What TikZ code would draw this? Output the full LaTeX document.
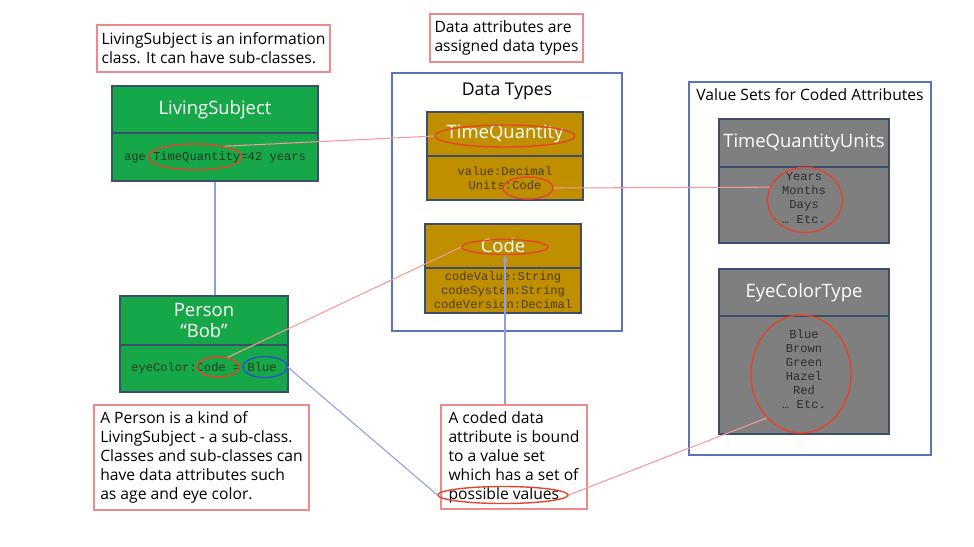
\documentclass[tikz,border=0pt]{standalone}
\usepackage{fontspec}
\setmainfont{Open Sans}
\setmonofont{Liberation Mono}
\usetikzlibrary{shapes.geometric, arrows.meta, positioning}
\definecolor{classgreen}{HTML}{16A848}
\definecolor{typegold}{HTML}{BF8F00}
\definecolor{setgrey}{HTML}{7F7F7F}
\definecolor{boxline}{HTML}{3B4E6B}
\definecolor{groupline}{HTML}{5B74B8}
\definecolor{noteline}{HTML}{EE8A8A}
\definecolor{ringred}{HTML}{E5452C}
\definecolor{ringblue}{HTML}{2456C8}
\definecolor{linkred}{HTML}{F29A9A}
\definecolor{linkblue}{HTML}{8E9EE2}
\definecolor{greentext}{HTML}{1C3A22}
\definecolor{goldtext}{HTML}{4C3C14}
\definecolor{greytext}{HTML}{2E2E2E}

\tikzset{
  note/.style={draw=noteline, line width=0.6pt, fill=white, align=left, inner sep=0pt,
    font=\fontsize{8.9}{10.8}\selectfont, anchor=center},
  hdr/.style={draw=boxline, line width=0.6pt, text=white, align=center, inner sep=0pt,
    font=\fontsize{10.5}{12}\selectfont},
  attr/.style={draw=boxline, line width=0.6pt, align=center, inner sep=0pt,
    font=\fontsize{6.9}{8}\ttfamily},
  group/.style={draw=groupline, line width=0.6pt, inner sep=0pt},
  ring/.style={ellipse, draw=ringred, line width=0.8pt, inner sep=0pt},
  redlink/.style={draw=linkred, line width=0.6pt},
  bluelink/.style={draw=linkblue, line width=0.6pt},
}

\begin{document}
\begin{tikzpicture}
  \useasboundingbox (0,0) rectangle (19.48,-10.94);

  % information classes
  \node[hdr, fill=classgreen, minimum width=4.12cm, minimum height=0.94cm] (lsHead) at (4.30,-2.19) {LivingSubject};
  \node[attr, fill=classgreen, text=greentext, minimum width=4.12cm, minimum height=0.96cm] (lsBody) at (4.30,-3.14) {age:TimeQuantity=42 years};

  \node[hdr, fill=classgreen, minimum width=3.36cm, minimum height=0.98cm] (perHead) at (4.08,-6.41) {Person\\“Bob”};
  \node[attr, fill=classgreen, text=greentext, minimum width=3.36cm, minimum height=0.94cm] (perBody) at (4.08,-7.37) {eyeColor:Code = Blue};

  \draw[bluelink] (lsBody.south) -- (lsBody.south |- perHead.north);

  % data types
  \node[group, minimum width=4.60cm, minimum height=5.16cm] (dtGroup) at (10.14,-4.04) {};
  \node[font=\fontsize{10}{12}\selectfont] (dtTitle) at (10.14,-1.82) {Data Types};

  \node[hdr, fill=typegold, minimum width=3.12cm, minimum height=0.88cm] (tqHead) at (10.10,-2.68) {TimeQuantity};
  \node[attr, fill=typegold, text=goldtext, minimum width=3.12cm, minimum height=0.88cm] (tqBody) at (10.10,-3.56) {value:Decimal\\Units:Code};

  \node[hdr, fill=typegold, minimum width=3.12cm, minimum height=0.88cm] (cdHead) at (10.06,-4.92) {Code};
  \node[attr, fill=typegold, text=goldtext, minimum width=3.12cm, minimum height=0.90cm] (cdBody) at (10.06,-5.81) {codeValue:String\\codeSystem:String\\codeVersion:Decimal};

  % value sets
  \node[group, minimum width=4.84cm, minimum height=7.46cm] (vsGroup) at (16.20,-5.37) {};
  \node[font=\fontsize{8.9}{11}\selectfont] (vsTitle) at (16.20,-1.90) {Value Sets for Coded Attributes};

  \node[hdr, fill=setgrey, minimum width=3.40cm, minimum height=0.96cm] (tquHead) at (16.08,-2.86) {TimeQuantityUnits};
  \node[attr, fill=setgrey, minimum width=3.40cm, minimum height=1.52cm] (tquBody) at (16.08,-4.10) {};
  \node[attr, draw=none, text=greytext] (tquVals) at (16.08,-3.96) {Years\\Months\\Days\\… Etc.};

  \node[hdr, fill=setgrey, minimum width=3.40cm, minimum height=0.94cm] (ecHead) at (16.08,-5.85) {EyeColorType};
  \node[attr, fill=setgrey, minimum width=3.40cm, minimum height=2.36cm] (ecBody) at (16.08,-7.50) {};
  \node[attr, draw=none, text=greytext] (ecVals) at (16.08,-7.38) {Blue\\Brown\\Green\\Hazel\\Red\\… Etc.};

  % callouts
  \node[note, minimum width=4.66cm, minimum height=0.94cm] (noteClass) at (4.27,-0.97) {LivingSubject is an information\\class. It can have sub-classes.};
  \node[note, minimum width=3.06cm, minimum height=0.96cm] (noteTypes) at (10.13,-0.76) {Data attributes are\\assigned data types};
  \node[note, minimum width=4.30cm, minimum height=2.10cm] (notePerson) at (4.03,-9.15) {A Person is a kind of\\LivingSubject - a sub-class.\\Classes and sub-classes can\\have data attributes such\\as age and eye color.};
  \node[note, minimum width=2.92cm, minimum height=2.08cm] (noteCoded) at (10.28,-9.14) {A coded data\\attribute is bound\\to a value set\\which has a set of\\possible values};

  % highlight rings
  \node[ring, minimum width=1.88cm, minimum height=0.52cm] (ringAge) at (3.90,-3.14) {};
  \node[ring, minimum width=2.80cm, minimum height=0.44cm] (ringTq) at (10.10,-2.72) {};
  \node[ring, minimum width=1.00cm, minimum height=0.44cm] (ringUnits) at (10.56,-3.76) {};
  \node[ring, minimum width=1.72cm, minimum height=0.30cm] (ringCode) at (10.10,-4.94) {};
  \node[ring, minimum width=0.84cm, minimum height=0.40cm] (ringEye) at (4.36,-7.34) {};
  \node[ring, draw=ringblue, minimum width=0.88cm, minimum height=0.42cm] (ringBlue) at (5.30,-7.34) {};
  \node[ring, minimum width=1.50cm, minimum height=1.30cm] (ringTqu) at (16.10,-4.00) {};
  \node[ring, minimum width=2.00cm, minimum height=2.36cm] (ringEc) at (16.02,-7.48) {};
  \node[ring, minimum width=2.60cm, minimum height=0.34cm] (ringVals) at (10.06,-9.90) {};

  % links
  \draw[redlink] (ringAge.20) -- (ringTq.west);
  \draw[redlink] (ringUnits.east) -- (ringTqu.160);
  \draw[redlink] (ringEye.45) -- (ringCode.west);
  \draw[bluelink, -{Stealth[length=4pt, width=3pt]}] (ringCode.south |- noteCoded.north) -- (ringCode.south);
  \draw[bluelink] (ringBlue.east) -- (ringVals.west);
  \draw[redlink] (ringVals.east) -- (ringEc.232);
\end{tikzpicture}
\end{document}
